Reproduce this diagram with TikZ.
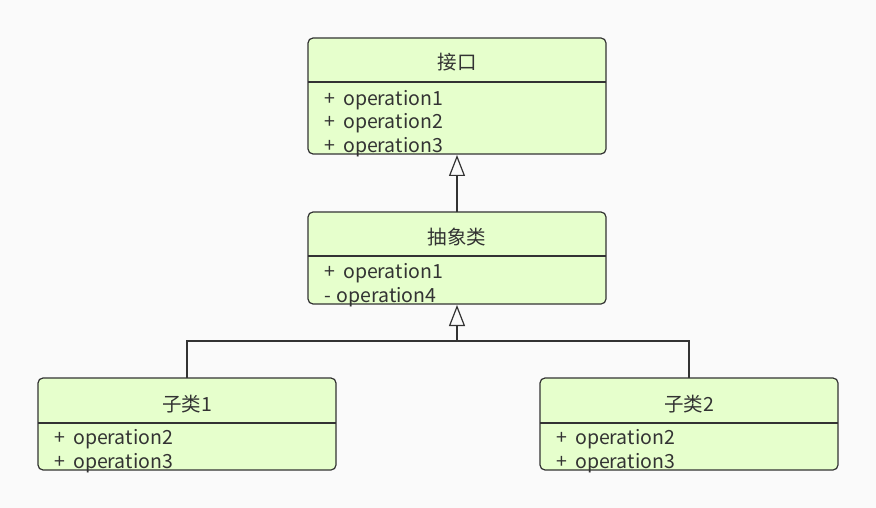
\documentclass[tikz,border=0pt]{standalone}
\usepackage{fontspec}
\setmainfont{Noto Sans CJK SC}
\usetikzlibrary{arrows.meta}
\definecolor{bg}{HTML}{FAFAFA}
\definecolor{boxfill}{HTML}{E6FFCC}
\definecolor{ink}{HTML}{333333}
\newcommand{\pl}{+\hspace{0.42em}}
\newcommand{\mi}{-\hspace{0.3em}}
\tikzset{
  box/.style={draw=ink, fill=boxfill, line width=1.2pt, rounded corners=5pt},
  sep/.style={draw=ink, line width=1.2pt},
  lbl/.style={text=ink, font=\fontsize{19.5}{22}\selectfont, inner sep=0pt},
  conn/.style={draw=ink, line width=1.2pt},
  inh/.style={-{Triangle[open, length=21pt, width=16pt, line width=1.2pt]}, fill=white},
}
\begin{document}
\begin{tikzpicture}[x=1pt,y=-1pt]
\useasboundingbox (0,0) rectangle (876,508);
\fill[bg] (0,0) rectangle (876,508);
% interface box
\draw[box] (308,38) rectangle (606,154);
\draw[sep] (308,82) -- (606,82);
\node[lbl] (iT) at (457,62) {接口};
\node[lbl, anchor=west] (i1) at (324,100) {\pl operation1};
\node[lbl, anchor=west] (i2) at (324,123) {\pl operation2};
\node[lbl, anchor=west] (i3) at (324,147) {\pl operation3};
\coordinate (iB) at (457,155);
% abstract
\draw[box] (308,212) rectangle (606,304);
\draw[sep] (308,256) -- (606,256);
\node[lbl] (aT) at (457,237) {抽象类};
\node[lbl, anchor=west] (a1) at (324,273) {\pl operation1};
\node[lbl, anchor=west] (a2) at (324,297) {\mi operation4};
\coordinate (aTop) at (457,212);
\coordinate (aB) at (457,305);
% child 1
\draw[box] (38,378) rectangle (336,470);
\draw[sep] (38,423) -- (336,423);
\node[lbl] (c1T) at (187,404) {子类1};
\node[lbl, anchor=west] (c11) at (54,439) {\pl operation2};
\node[lbl, anchor=west] (c12) at (54,463) {\pl operation3};
\coordinate (c1Top) at (187,378);
% child 2
\draw[box] (540,378) rectangle (838,470);
\draw[sep] (540,423) -- (838,423);
\node[lbl] (c2T) at (689,404) {子类2};
\node[lbl, anchor=west] (c21) at (556,439) {\pl operation2};
\node[lbl, anchor=west] (c22) at (556,463) {\pl operation3};
\coordinate (c2Top) at (689,378);
% connectors
\coordinate (j) at (457,341);
\draw[conn, inh] (aTop) -- (iB);
\draw[conn] (c1Top) |- (j) -| (c2Top);
\draw[conn, inh] (j) -- (aB);
\end{tikzpicture}
\end{document}
